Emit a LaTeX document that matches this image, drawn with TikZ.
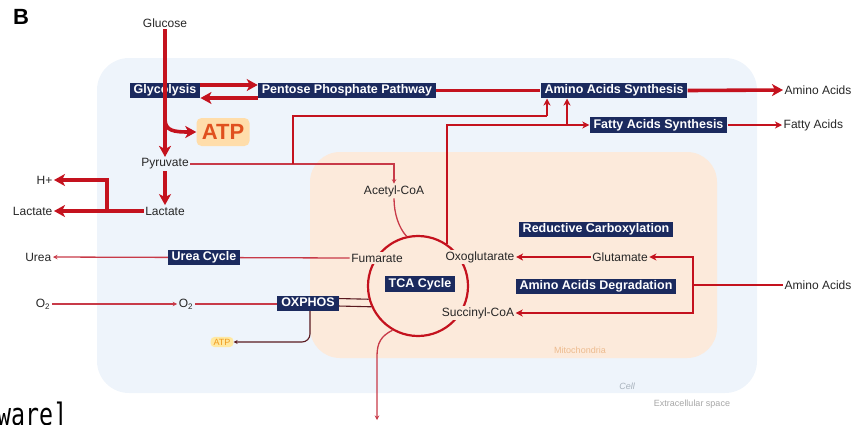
\documentclass[tikz,border=0pt]{standalone}
\usepackage{fontspec}
\setmainfont{Liberation Sans}
\newfontfamily\codefont{DejaVu Sans Mono}
\usetikzlibrary{arrows.meta}

\definecolor{cellblue}{HTML}{EEF4FB}
\definecolor{mitopeach}{HTML}{FCEADB}
\definecolor{navy}{HTML}{1B2A5E}
\definecolor{pathred}{HTML}{C4121E}
\definecolor{thinred}{HTML}{C83A48}
\definecolor{atporange}{HTML}{E0501E}
\definecolor{atpglow}{HTML}{FFDDAA}
\definecolor{atpsmallglow}{HTML}{FFE8A0}
\definecolor{atpsmalltext}{HTML}{EE9A1E}
\definecolor{mitolabel}{HTML}{EDBB8E}
\definecolor{cellgray}{HTML}{A8B2BC}

\begin{document}
\begin{tikzpicture}[x=1pt,y=-1pt,
  proc/.style={fill=navy, text=white, font=\fontsize{12.5}{13}\selectfont\bfseries,
    inner xsep=4pt, inner ysep=2pt, text height=9pt, text depth=2.6pt},
  lbl/.style={font=\fontsize{12}{13}\selectfont, text=black!85, inner sep=1.5pt},
  inc/.style={lbl, fill=cellblue},
  inm/.style={lbl, fill=mitopeach},
  bigflow/.style={draw=pathred, line width=3.6pt, -{Stealth[length=11pt,width=12pt,inset=3pt]}},
  bigline/.style={draw=pathred, line width=3.6pt},
  midflow/.style={draw=pathred, line width=2.2pt, -{Stealth[length=7pt,width=7pt,inset=2pt]}},
  midline/.style={draw=pathred, line width=2.2pt},
  thinflow/.style={draw=thinred, line width=1.3pt, -{Stealth[length=4.5pt,width=4.5pt]}},
  thinline/.style={draw=thinred, line width=1.3pt},
  darkline/.style={draw=black!55!thinred, line width=1.1pt},
]
\useasboundingbox (0,0) rectangle (851,424);

% compartments
\fill[cellblue, rounded corners=32pt] (97,58) rectangle (757,393);
\fill[mitopeach, rounded corners=30pt] (310,152) rectangle (717,358);
\node[font=\fontsize{9}{10}\selectfont, text=mitolabel] (mitolbl) at (580,350) {Mitochondria};
\node[font=\fontsize{9}{10}\selectfont\itshape, text=cellgray] (celllbl) at (627,386) {Cell};
\node[font=\fontsize{9}{10}\selectfont, text=black!35] (extlbl) at (692,404) {Extracellular space};

% panel letter and caption text along the lower edge
\node[font=\fontsize{22}{22}\selectfont\bfseries] (panel) at (21,17) {B};
\node[anchor=base west, inner sep=0pt, font=\codefont\fontsize{31}{31}\selectfont] (cap) at (-3,425) {\scalebox{0.75}[1]{ware]}};

% TCA cycle ring
\node[circle, draw=pathred, line width=2.2pt, minimum size=100pt, inner sep=0pt] (ring) at (418,286) {};

% metabolites
\node[lbl] (glc) at (165,23) {Glucose};
\node[inc] (pyr) at (165,164) {Pyruvate};
\node[inc] (lacin) at (165,211) {Lactate};
\node[lbl, anchor=east] (hplus) at (54,180) {H+};
\node[lbl, anchor=east] (lacout) at (54,211) {Lactate};
\node[lbl, anchor=east] (urea) at (53,257) {Urea};
\node[lbl] (o2out) at (43,304) {O\textsubscript{2}};
\node[inc] (o2in) at (186,304) {O\textsubscript{2}};
\node[inm] (acoa) at (394,191) {Acetyl-CoA};
\node[inm] (fum) at (377,258) {Fumarate};
\node[inm] (oxo) at (480,257) {Oxoglutarate};
\node[inm] (glu) at (620,257) {Glutamate};
\node[inm] (suc) at (478,313) {Succinyl-CoA};
\node[lbl, anchor=west] (aaout) at (783,90) {Amino Acids};
\node[lbl, anchor=west] (faout) at (782,125) {Fatty Acids};
\node[lbl, anchor=west] (aain) at (783,285) {Amino Acids};

% ATP
\node[fill=atpglow, rounded corners=5pt, minimum width=53pt, minimum height=28pt, inner sep=0pt,
  text=atporange, font=\fontsize{22}{22}\selectfont\bfseries] (atp) at (223,132) {ATP};
\node[fill=atpsmallglow, rounded corners=4pt, inner xsep=3pt, inner ysep=2pt,
  text=atpsmalltext, font=\fontsize{9}{10}\selectfont] (atps) at (222,342) {ATP};

% thin connectors drawn under the boxes
\draw[thinflow] (fum.west) -- (urea.east);
\draw[thinflow] (o2out.east) -- (o2in.west);
\draw[thinline] (o2in.east) -- (280,304);
\draw[thinflow] (pyr.east) -| (acoa.north);
\draw[thinline] (acoa.south) .. controls (394,214) and (399,228) .. (ring.103);
\draw[darkline] (338,298.5) -- (ring.195);
\draw[darkline] (338,306) -- (ring.204);
\draw[darkline, -{Stealth[length=4pt,width=4pt]}, rounded corners=8pt] (310,311) |- (atps.east);
\draw[thinflow] (ring.240) .. controls (381,336) and (377,343) .. (377,356) -- (377,420);

% process boxes
\node[proc] (gly) at (165,90.5) {Glycolysis};
\node[proc] (ppp) at (347,90.5) {Pentose Phosphate Pathway};
\node[proc] (aas) at (614,90.5) {Amino Acids Synthesis};
\node[proc] (fas) at (658.5,125) {Fatty Acids Synthesis};
\node[proc] (ucyc) at (204,257.5) {Urea Cycle};
\node[proc] (rcarb) at (596,229.5) {Reductive Carboxylation};
\node[proc] (aadeg) at (596,286.5) {Amino Acids Degradation};
\node[proc] (tca) at (420,284) {TCA Cycle};
\node[proc] (oxphos) at (308,303.5) {OXPHOS};

% glycolysis and its branches
\draw[bigflow] (glc.south) -- (pyr.north);
\draw[bigflow] (165,119) .. controls (165,131) and (174,132) .. (atp.west);
\draw[bigflow] ([yshift=5.5pt]gly.east) -- ([yshift=5.5pt]ppp.west);
\draw[bigflow] ([yshift=-7.5pt]ppp.west) -- ([yshift=-7.5pt]gly.east);
\draw[bigline] (ppp.east) -- (aas.west);
\draw[bigflow] (aas.east) -- (aaout.west);
\draw[bigflow] (pyr.south) -- (lacin.north);
\draw[bigflow] (lacin.west) -- (lacout.east);
\coordinate (hj) at (107,211);
\draw[bigflow] (hj) |- (hplus.east);

% biosynthesis feeders
\coordinate (pj) at (293,164);
\coordinate (pk) at (547,116);
\draw[midline] (pj) |- (pk);
\draw[midflow] (pk) -- (pk |- aas.south);
\coordinate (ok) at (567,125);
\draw[midline] (ring.55) |- (ok);
\draw[midflow] (ok) -- (ok |- aas.south);
\draw[midflow] (ok) -- (fas.west);
\draw[midflow] (fas.east) -- (faout.west);

% amino acid degradation inputs
\coordinate (aj) at (693,285);
\draw[midline] (aain.west) -- (aj);
\draw[midflow] (aj) |- (glu.east);
\draw[midflow] (aj) |- (suc.east);
\draw[midflow] (glu.west) -- (oxo.east);
\end{tikzpicture}
\end{document}
